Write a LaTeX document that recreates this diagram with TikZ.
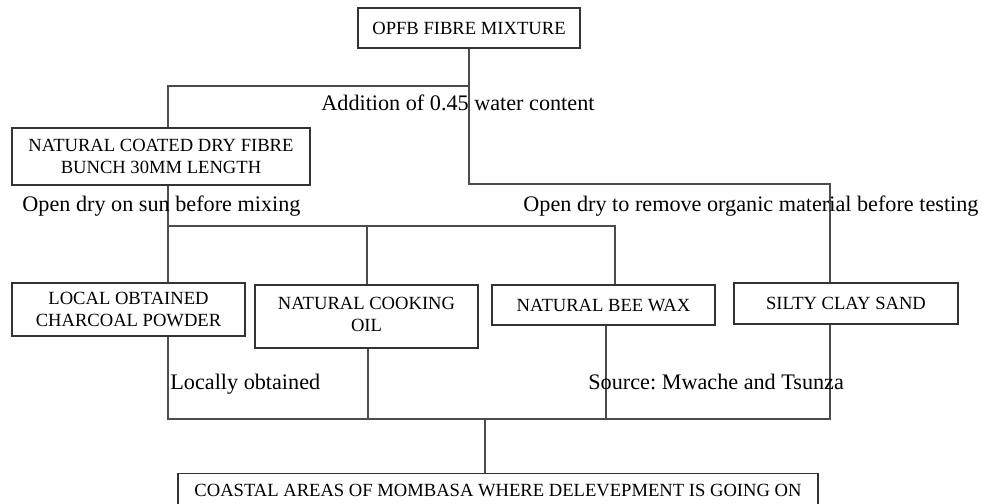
\documentclass[tikz,border=0pt]{standalone}
\usepackage{fontspec}
\setmainfont{Liberation Serif}
\frenchspacing
\begin{document}
\begin{tikzpicture}[x=0.5pt,y=-0.5pt,
  box/.style={draw=black!80,line width=0.7pt,inner sep=0pt,align=center,font=\fontsize{9.3}{11}\selectfont},
  note/.style={inner sep=0pt,anchor=base west,font=\fontsize{11.1}{13}\selectfont},
  link/.style={draw=black!70,line width=0.6pt}]
\useasboundingbox (0,0) rectangle (982,504);
\node[box,minimum width=111pt,minimum height=20pt] (opfb) at (469,28) {OPFB FIBRE MIXTURE};
\node[box,minimum width=149pt,minimum height=28.5pt] (fibre) at (161,156.5) {NATURAL COATED DRY FIBRE\\BUNCH 30MM LENGTH};
\node[box,minimum width=116.5pt,minimum height=26.5pt] (charcoal) at (128.5,309.5) {LOCAL OBTAINED\\CHARCOAL POWDER};
\node[box,minimum width=111.5pt,minimum height=31.5pt] (oil) at (366.5,316.5) {\raisebox{2pt}{NATURAL COOKING}\\\raisebox{2pt}{OIL}};
\node[box,minimum width=111.5pt,minimum height=20pt] (wax) at (603.5,305) {NATURAL BEE WAX};
\node[box,minimum width=112pt,minimum height=20.5pt] (silty) at (846,303.5) {SILTY CLAY SAND};
\node[box,minimum width=320pt,minimum height=20pt,anchor=north] (coast) at (498,472.5) {\raisebox{3pt}{COASTAL AREAS OF MOMBASA WHERE DELEVEPMENT IS GOING ON}};
\coordinate (top) at (469,86);
\coordinate (topleft) at (168,86);
\coordinate (right) at (469,184);
\coordinate (farright) at (830,184);
\coordinate (mixleft) at (168,226);
\coordinate (mixright) at (615,226);
\coordinate (baseleft) at (168,419);
\coordinate (baseright) at (830,419);
\coordinate (basemid) at (485,419);
\draw[link] (opfb.south) -- (top) -- (topleft) -- (topleft |- fibre.north);
\draw[link] (top) -- (right) -- (farright) -- (farright |- silty.north);
\draw[link] (mixleft |- fibre.south) -- (mixleft) -- (mixright) -- (mixright |- wax.north);
\draw[link] (mixleft) -- (mixleft |- charcoal.north);
\draw[link] (367,226) -- (367,226 |- oil.north);
\draw[link] (baseleft |- charcoal.south) -- (baseleft) -- (baseright) -- (baseright |- silty.south);
\draw[link] (368,419) -- (368,419 |- oil.south);
\draw[link] (606,419) -- (606,419 |- wax.south);
\draw[link] (basemid) -- (basemid |- coast.north);
\node[note] (water) at (321,110) {Addition of 0.45 water content};
\node[note] (sun) at (22,211) {Open dry on sun before mixing};
\node[note] (organic) at (523,211) {Open dry to remove organic material before testing};
\node[note] (local) at (170,389) {Locally obtained};
\node[note] (source) at (588,389) {Source: Mwache and Tsunza};
\end{tikzpicture}
\end{document}
